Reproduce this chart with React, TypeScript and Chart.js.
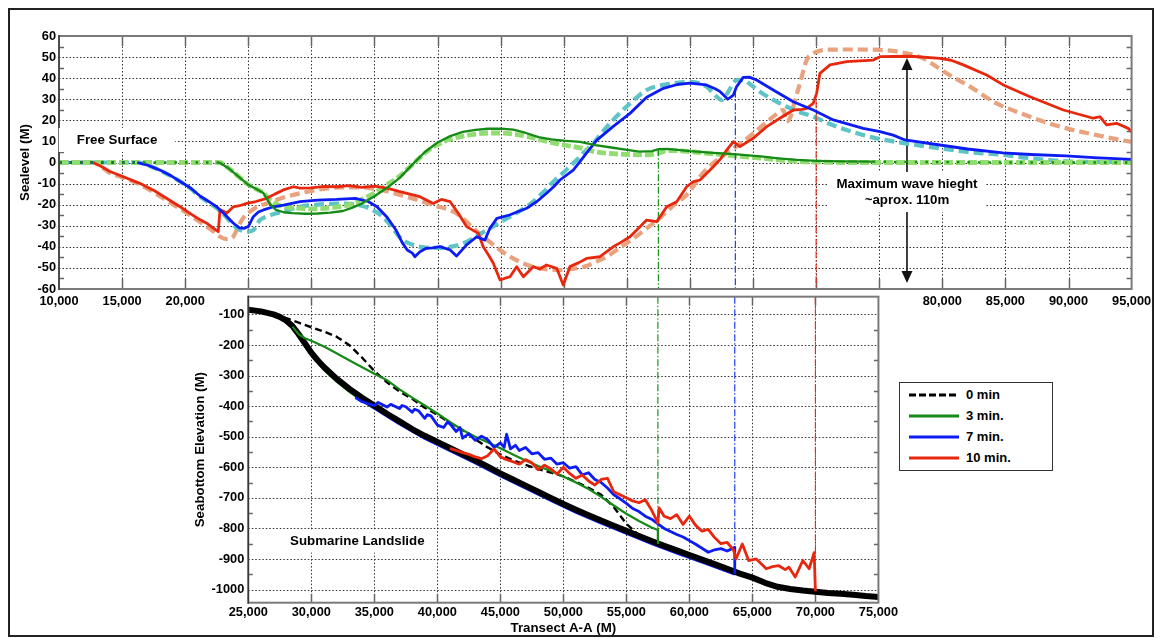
import { useEffect, useRef } from 'react';
import { Chart, registerables } from 'chart.js';

Chart.register(...registerables);

const FONT = '"Liberation Sans", Arial, Helvetica, sans-serif';

type P = [number, number];

// ---------- axes ----------
const topXTicks = [10000, 15000, 20000, 25000, 30000, 35000, 40000, 45000, 50000, 55000, 60000, 65000, 70000, 75000, 80000, 85000, 90000, 95000];
const topXLabelled = [10000, 15000, 20000, 80000, 85000, 90000, 95000];
const topYTicks = [-60, -50, -40, -30, -20, -10, 0, 10, 20, 30, 40, 50, 60];
const topYMinor = [-55, -45, -35, -25, -15, -5, 5, 15, 25, 35, 45, 55];

const botXTicks = [25000, 30000, 35000, 40000, 45000, 50000, 55000, 60000, 65000, 70000, 75000];
const botYTicks = [-100, -200, -300, -400, -500, -600, -700, -800, -900, -1000];
const botYMinor = [-150, -250, -350, -450, -550, -650, -750, -850, -950];

// ---------- free surface (sealevel) ----------
const sea3min: P[] = [[10000,0],[22700,0],[23500,-3],[24300,-7],[25000,-10.6],[25600,-12.5],[26200,-14.5],[26700,-19.5],[27200,-22.5],[27800,-23.6],[28500,-24],[29500,-24.3],[30500,-24.2],[31500,-23.8],[32500,-23],[33200,-21.5],[34000,-19.5],[35000,-16],[36000,-12],[37000,-7.3],[38000,-1],[39000,5],[40000,9.5],[41000,12.5],[42000,14.5],[43000,15.5],[44000,16],[45000,16.1],[46000,15.6],[47000,14],[48000,12],[49000,11],[50000,10.4],[51300,9.8],[52500,8.2],[53900,7],[55000,6],[56000,5.2],[57000,5.4],[57500,6.3],[58200,6.5],[59000,6],[60000,5.4],[61800,4.6],[63500,4],[65800,2.8],[67000,2],[68500,1.2],[70000,0.8],[72000,0.5],[74500,0.4],[77000,0.3],[80000,0.2],[85000,0],[95000,0]];
const sea3minRef: P[] = [[10000,0],[22700,0],[23500,-3],[24300,-7],[25000,-10.5],[25600,-12.5],[26200,-14.5],[26800,-18],[27500,-20.5],[28500,-21.5],[30000,-22],[31500,-21.5],[33000,-20],[34000,-17.5],[35000,-14.5],[36000,-10.5],[37000,-6.5],[38000,-1],[39000,4.5],[40000,8.5],[41000,11],[42000,12.5],[43000,13.5],[44000,14],[45000,14],[46000,13.5],[47000,12.5],[48000,11],[49000,9.5],[50000,8.3],[51300,6.9],[52500,5],[53900,4.2],[55000,3.8],[56500,3.6],[57500,4.4],[58200,5.6],[59000,5.6],[60000,5.2],[61800,4.1],[63500,3.2],[65800,2],[67000,1.2],[68500,0.5],[70000,0.2],[72000,0],[95000,0]];
const sea7min: P[] = [[10000,0],[16200,0],[17000,-1.2],[18000,-3.6],[18800,-6],[19600,-9],[20400,-12],[21200,-16],[22000,-19],[22500,-21],[23200,-25],[23800,-28.7],[24300,-31],[24700,-31.2],[25000,-30.4],[25400,-25.7],[25800,-23.5],[26200,-22.5],[27000,-21],[27800,-20.2],[29100,-18.6],[30500,-17.8],[32000,-17.5],[33500,-17],[34500,-18.5],[35200,-21],[36000,-26],[36700,-32],[37200,-38],[37600,-41.5],[38000,-43],[38200,-44.7],[38600,-42.3],[39100,-40.7],[39600,-40.5],[40200,-39.9],[41000,-41.5],[41500,-44.4],[42300,-39.1],[43100,-35.2],[43750,-36.8],[44150,-31.2],[44700,-26.5],[45700,-24.9],[46300,-23.5],[47060,-21.7],[47850,-18.6],[48640,-14.6],[49200,-11.5],[49700,-8.3],[50750,-3.6],[51300,0.5],[51800,4.4],[52600,10.5],[53900,17],[55250,23.3],[56570,31],[57900,35.2],[59000,37],[60000,37.6],[61300,36.8],[62000,35],[62400,33.6],[63000,30],[63440,32],[63700,36],[64220,40.4],[64700,40.5],[65280,39.1],[66600,34.4],[68190,28.8],[69770,24.9],[71360,20.2],[73730,16.2],[75060,14.6],[76100,13],[77040,10.7],[79800,8.3],[82000,6.4],[84800,4.6],[87000,3.8],[89800,3.1],[92000,2.3],[95000,1.5]];
const sea7minRef: P[] = [[10000,0],[16200,0],[17000,-1.2],[18000,-3.8],[18800,-6.2],[19600,-9],[20400,-12.3],[21200,-16.3],[22000,-19.5],[22500,-21.7],[23200,-25.5],[23800,-29.6],[24300,-31.8],[24870,-32.8],[25400,-32],[25930,-27.3],[26500,-25.5],[27250,-24.1],[28200,-22.5],[29100,-21],[30500,-20],[32000,-19.5],[33500,-20],[34500,-21.5],[35500,-25],[36300,-30],[37000,-35.5],[37800,-38.5],[38600,-40],[40000,-40.5],[41000,-40],[41800,-38.8],[42570,-36.8],[43900,-32],[44800,-29],[45740,-25.7],[46700,-22.3],[47580,-18.6],[48400,-14],[49170,-9.1],[50100,-4],[51020,1.2],[51700,5.5],[52340,9.1],[53000,14],[53920,20.2],[55250,28],[56570,34.4],[57880,36.8],[59000,37.8],[60000,38.3],[61320,36],[61800,33],[62110,31.2],[62510,29.6],[63040,33.6],[63700,39.1],[64220,39.1],[64800,37],[65540,33.6],[67130,28],[68500,24.3],[69770,21.7],[71000,18.5],[72420,15.4],[74530,11.8],[77040,9.1],[79800,6.7],[82000,5],[84800,3.6],[87000,2],[89800,0.6],[92000,0.3],[95000,0.3]];
const sea10min: P[] = [[10000,0],[12700,0],[13400,-2],[14040,-4.3],[15000,-6.5],[16400,-9.9],[17600,-13.5],[18800,-18],[19600,-21],[20380,-24.1],[21000,-26.5],[21700,-28.8],[22200,-31],[22620,-32.8],[22760,-22.5],[23000,-23],[23290,-24.1],[23810,-21],[24300,-20.5],[24870,-19.4],[25600,-18.5],[26460,-17],[27100,-15],[27780,-13],[28570,-11.5],[29100,-12.2],[30000,-12],[31000,-11.3],[32000,-11.5],[33000,-11],[34000,-11.8],[35000,-11.2],[36000,-12.2],[37020,-13.8],[37800,-15],[38600,-16.2],[39660,-19.4],[40300,-17.5],[41000,-18.6],[41640,-24.1],[42300,-30.4],[43230,-33.6],[43620,-40],[44000,-43.5],[44420,-47.8],[44950,-55.7],[45300,-55],[45740,-54.2],[46270,-49.4],[46800,-54.2],[47580,-49.4],[48100,-50.5],[48640,-48.6],[49440,-50.2],[49960,-58.1],[50490,-49.4],[51200,-47.5],[51810,-45.5],[52870,-44.7],[53920,-40],[54500,-38],[55250,-35.2],[56570,-27.3],[57360,-28.1],[58160,-21],[58950,-18.6],[59740,-11.5],[60270,-9.1],[60800,-8.3],[61850,-2],[62400,1.5],[62910,5.9],[63440,9.9],[63960,7.5],[65020,11.5],[66080,17],[67130,21],[68190,24.9],[68900,25.2],[69250,25.7],[69770,28],[70040,32.8],[70300,42.3],[71100,46.3],[72420,47.8],[74530,48.6],[75060,50.2],[77500,50.4],[79800,49.4],[80700,48.5],[81660,46.3],[83510,41.5],[84830,36.8],[86950,31.2],[89590,24.9],[91960,21],[92490,21.7],[93020,17.8],[93810,18.6],[94730,16.2],[95000,14.6]];
const sea10minRef: P[] = [[10000,0],[12700,0],[13400,-2.3],[14040,-5],[15000,-7],[16400,-10.5],[17600,-14.5],[18800,-19],[19600,-22],[20380,-25],[21000,-27.5],[21700,-30.4],[22300,-33],[22760,-35.2],[23290,-36.3],[23810,-35.2],[24000,-33],[24340,-28.8],[24700,-25.5],[25130,-23.3],[25700,-21],[26460,-19.4],[27200,-17.8],[28040,-16.2],[29100,-14.6],[30000,-13.5],[31000,-12.5],[32500,-11.8],[34000,-11.8],[35500,-13],[37020,-15.4],[38300,-17.5],[39660,-20.2],[41250,-23.3],[42000,-26.5],[42830,-31.2],[43900,-36.5],[44950,-41.5],[45700,-44.5],[46530,-47.1],[47300,-49],[48120,-50.2],[49700,-51],[50700,-50.5],[51810,-49.1],[52600,-47],[53400,-44.7],[54200,-41.5],[54980,-38.3],[55800,-34.8],[56570,-31.2],[57400,-27.5],[58160,-23.3],[58950,-19],[59740,-15.4],[60300,-11],[60800,-6.7],[61800,-0.5],[62910,4.4],[64000,9],[65020,13.8],[65800,17.8],[66600,21.7],[67400,24.9],[67660,19.4],[68000,22],[68190,26.5],[68720,37.6],[69250,48.6],[69700,51.5],[70300,53],[71000,53.5],[73000,53.6],[75060,53.4],[77170,51.8],[78490,49.4],[79400,46],[80340,42.3],[82190,36],[84300,28],[85700,24.5],[86950,21.7],[88500,18.5],[89850,16.2],[92230,13],[94870,9.9],[95000,9.8]];

// wave fronts (dash-dot verticals), top part and bottom part
const front3Top: P[] = [[57500, 6.3], [57500, -60]];
const front7Top: P[] = [[63600, 34], [63600, -60]];
const front10Top: P[] = [[70000, 29], [70000, -60]];
const front3Bot: P[] = [[57500, -42], [57500, -805]];
const front7Bot: P[] = [[63600, -42], [63600, -862]];
const front10Bot: P[] = [[70000, -42], [70000, -880]];

// ---------- seabottom ----------
const seabed: P[] = [[25000,-85],[26000,-90],[27000,-100],[27500,-108],[28000,-120],[28500,-138],[29000,-165],[29500,-195],[30000,-225],[30500,-250],[31000,-272],[32000,-310],[33000,-343],[34000,-372],[35000,-398],[36000,-425],[37000,-450],[38000,-475],[39000,-497],[40000,-517],[41000,-537],[42000,-557],[43000,-577],[44000,-598],[45000,-620],[46000,-640],[47000,-660],[48000,-680],[49000,-700],[50000,-720],[51000,-739],[52000,-757],[53000,-774],[54000,-791],[55000,-808],[56000,-825],[57000,-841],[58000,-857],[59000,-872],[60000,-887],[61000,-902],[62000,-917],[63000,-932],[64000,-948],[65000,-961],[66000,-978],[67000,-991],[68000,-998],[69000,-1003],[70000,-1007],[71000,-1011],[72000,-1014],[73000,-1017],[74000,-1021],[75000,-1024]];
const slide0min: P[] = [[27000,-100],[28000,-112],[29000,-127],[30000,-142],[31000,-156],[32000,-173],[33000,-200],[34000,-240],[35000,-285],[36000,-322],[37000,-352],[38000,-376],[39000,-405],[40000,-428],[41000,-455],[42000,-478],[43000,-508],[44000,-535],[45000,-558],[46000,-577],[47000,-592],[48000,-606],[49000,-617],[50000,-630],[51000,-648],[52000,-667],[53000,-690],[54000,-730],[55000,-785],[55800,-815],[56200,-828]];
const slide3min: P[] = [[28500,-140],[29000,-165],[29500,-178],[30000,-186],[31000,-205],[32000,-227],[33000,-250],[34000,-272],[35000,-294],[36000,-315],[37000,-345],[38000,-372],[39000,-398],[40000,-424],[41000,-452],[42000,-478],[43000,-500],[44000,-518],[45000,-538],[46000,-558],[47000,-578],[48000,-596],[49000,-612],[50000,-630],[51000,-650],[52000,-671],[53000,-697],[54000,-725],[55000,-752],[56000,-776],[57000,-797],[57500,-805],[57500,-848]];
const slide3minBase: P[] = [[28500,-148],[29000,-175],[29500,-205],[30000,-235],[31000,-282],[32000,-320],[33000,-353],[34000,-382],[35000,-408]];
const slide7min: P[] = [[33500,-372],[34000,-385],[34500,-392],[35000,-398],[35300,-388],[35500,-392],[36000,-403],[36300,-394],[36500,-398],[37000,-408],[37200,-398],[37500,-402],[38000,-420],[38200,-410],[38500,-415],[39000,-440],[39200,-428],[39500,-432],[40000,-462],[40500,-470],[40800,-452],[41000,-458],[41500,-483],[41800,-470],[42000,-505],[42500,-490],[43000,-512],[43500,-498],[44000,-510],[44500,-535],[45000,-520],[45300,-535],[45500,-492],[45800,-540],[46200,-528],[46500,-545],[47000,-535],[47500,-556],[48000,-552],[48500,-574],[49000,-570],[49500,-590],[50000,-585],[50500,-603],[51000,-598],[51500,-625],[52000,-618],[52500,-640],[53000,-650],[53500,-668],[54000,-690],[54500,-703],[55000,-718],[55500,-735],[56000,-745],[56500,-760],[57000,-770],[57500,-785],[58000,-800],[58500,-810],[59000,-820],[59500,-828],[60000,-840],[60500,-852],[61000,-865],[61500,-878],[62000,-870],[62500,-866],[63000,-874],[63600,-862],[63600,-945]];
const slide7minBase: P[] = [[33500,-368],[35000,-408],[37000,-460],[39000,-507],[41000,-547],[43000,-587],[45000,-630],[47000,-670],[49000,-710],[51000,-749],[53000,-784],[55000,-818],[57000,-851],[59000,-882],[61000,-912],[63000,-942],[63600,-951]];
const slide10min: P[] = [[41000,-538],[41500,-545],[42000,-552],[42500,-558],[43000,-566],[43500,-572],[44000,-562],[44500,-540],[45000,-566],[45500,-575],[46000,-582],[46500,-590],[47000,-575],[47500,-585],[48000,-608],[48500,-593],[49000,-605],[49500,-622],[50000,-600],[50500,-620],[51000,-636],[51500,-625],[52000,-645],[52500,-658],[53000,-640],[53500,-636],[54000,-680],[54500,-690],[55000,-700],[55500,-710],[56000,-716],[56500,-706],[57000,-740],[57500,-782],[57600,-733],[58000,-760],[58500,-768],[59000,-755],[59500,-787],[60000,-760],[60500,-790],[61000,-809],[61500,-803],[62000,-830],[62500,-850],[63000,-846],[63500,-870],[63700,-900],[64200,-851],[64700,-905],[65300,-900],[65800,-920],[66100,-932],[66600,-925],[67100,-922],[67600,-935],[67900,-927],[68400,-959],[69000,-905],[69500,-932],[69900,-879],[70000,-1005]];

// ---------- annotations ----------
const freeSurfaceLabel = { x: 14600, y: 10.7, text: 'Free Surface' };
const waveLabel = { x: 77200, y: -14, lines: ['Maximum wave hieght', '~aprox. 110m'] };
const waveArrow = { x: 77200, top: 49.6, bottom: -57.2 };
const landslideLabel = { x: 33650, y: -843, text: 'Submarine Landslide' };

const legendItems = [
  { label: '0 min', color: '#000000', dash: '7 3' },
  { label: '3 min.', color: '#168a16', dash: '' },
  { label: '7 min.', color: '#0c1cf2', dash: '' },
  { label: '10 min.', color: '#e8280e', dash: '' },
];

const C = {
  green: '#168a16', lightGreen: '#92dd72', blue: '#0c1cf2', cyan: '#5ec4c6',
  red: '#e8280e', salmon: '#e9a27e', black: '#000000',
  vGreen: '#1a961a', vBlue: '#1f3df0', vRed: '#f02a1a',
};

const ds = (data: P[], color: string, width: number, extra: any = {}) => ({
  data: data.map(([x, y]) => ({ x, y })),
  borderColor: color,
  backgroundColor: color,
  borderWidth: width,
  pointRadius: 0,
  pointHoverRadius: 0,
  fill: false,
  tension: 0,
  borderCapStyle: 'butt',
  borderJoinStyle: 'round',
  ...extra,
});

const zeroDotted = {
  borderDash: (c: any) =>
    Math.abs(c.p0.parsed.y) < 0.45 && Math.abs(c.p1.parsed.y) < 0.45 ? [2.5, 8] : undefined,
};

function withOrder(list: any[]) {
  return list.map((d, i) => ({ ...d, order: list.length - i }));
}

function gridPlugin(g: { xTicks: number[]; yTicks: number[]; yMinor: number[]; xTickLen: number; yMinorLen: number }) {
  return {
    id: 'sciGrid',
    beforeDatasetsDraw(chart: any) {
      const { ctx, chartArea: a, scales } = chart;
      const xs = scales.x, ys = scales.y;
      ctx.save();
      ctx.fillStyle = '#ffffff';
      ctx.fillRect(a.left, a.top, a.right - a.left, a.bottom - a.top);
      ctx.lineWidth = 1;
      ctx.strokeStyle = '#333333';
      ctx.setLineDash([1.5, 2]);
      ctx.beginPath();
      g.xTicks.forEach((v) => {
        if (v > xs.min && v < xs.max) {
          const p = Math.round(xs.getPixelForValue(v)) + 0.5;
          ctx.moveTo(p, a.top); ctx.lineTo(p, a.bottom);
        }
      });
      g.yTicks.forEach((v) => {
        if (v > ys.min && v < ys.max) {
          const p = Math.round(ys.getPixelForValue(v)) + 0.5;
          ctx.moveTo(a.left, p); ctx.lineTo(a.right, p);
        }
      });
      ctx.stroke();
      ctx.setLineDash([]);
      ctx.strokeStyle = '#666666';
      ctx.lineWidth = 1.5;
      ctx.beginPath();
      g.xTicks.forEach((v) => {
        if (v > xs.min && v < xs.max) {
          const p = Math.round(xs.getPixelForValue(v)) + 0.5;
          ctx.moveTo(p, a.bottom); ctx.lineTo(p, a.bottom - g.xTickLen);
          ctx.moveTo(p, a.top); ctx.lineTo(p, a.top + g.xTickLen);
        }
      });
      g.yMinor.forEach((v) => {
        const p = Math.round(ys.getPixelForValue(v)) + 0.5;
        ctx.moveTo(a.left, p); ctx.lineTo(a.left + g.yMinorLen, p);
        ctx.moveTo(a.right, p); ctx.lineTo(a.right - g.yMinorLen, p);
      });
      ctx.stroke();
      ctx.restore();
    },
    afterDatasetsDraw(chart: any) {
      const { ctx, chartArea: a } = chart;
      ctx.save();
      ctx.strokeStyle = '#7a7a7a';
      ctx.lineWidth = 2;
      ctx.strokeRect(a.left, a.top, a.right - a.left, a.bottom - a.top);
      ctx.strokeStyle = '#333333';
      ctx.lineWidth = 1.3;
      ctx.beginPath();
      ctx.moveTo(a.left, a.top - 1); ctx.lineTo(a.left, a.bottom + 1);
      ctx.stroke();
      ctx.restore();
    },
  };
}

function textBox(ctx: CanvasRenderingContext2D, cx: number, cy: number, lines: string[], lineH: number, padX: number, boxH: number) {
  ctx.font = `bold 13.3px ${FONT}`;
  const w = Math.max(...lines.map((l) => ctx.measureText(l).width));
  ctx.fillStyle = '#ffffff';
  ctx.fillRect(cx - w / 2 - padX, cy - boxH / 2, w + 2 * padX, boxH);
  ctx.fillStyle = '#000000';
  ctx.textAlign = 'center';
  ctx.textBaseline = 'middle';
  lines.forEach((l, i) => {
    ctx.fillText(l, cx, cy + (i - (lines.length - 1) / 2) * lineH);
  });
}

const topAnnotations = {
  id: 'topAnnotations',
  beforeDatasetsDraw(chart: any) {
    const { ctx, scales } = chart;
    const x = scales.x.getPixelForValue(waveArrow.x);
    const yT = scales.y.getPixelForValue(waveArrow.top);
    const yB = scales.y.getPixelForValue(waveArrow.bottom);
    ctx.save();
    ctx.strokeStyle = '#111111';
    ctx.fillStyle = '#111111';
    ctx.lineWidth = 1.6;
    ctx.beginPath();
    ctx.moveTo(x, yT + 10); ctx.lineTo(x, yB - 10);
    ctx.stroke();
    ctx.beginPath();
    ctx.moveTo(x, yT); ctx.lineTo(x - 5.5, yT + 12); ctx.lineTo(x + 5.5, yT + 12); ctx.closePath();
    ctx.fill();
    ctx.beginPath();
    ctx.moveTo(x, yB); ctx.lineTo(x - 5.5, yB - 12); ctx.lineTo(x + 5.5, yB - 12); ctx.closePath();
    ctx.fill();
    ctx.restore();
  },
  afterDatasetsDraw(chart: any) {
    const { ctx, scales } = chart;
    ctx.save();
    textBox(ctx, scales.x.getPixelForValue(freeSurfaceLabel.x), scales.y.getPixelForValue(freeSurfaceLabel.y), [freeSurfaceLabel.text], 16, 18, 24);
    textBox(ctx, scales.x.getPixelForValue(waveLabel.x), scales.y.getPixelForValue(waveLabel.y), waveLabel.lines, 16, 8, 40);
    ctx.restore();
  },
};

const botAnnotations = {
  id: 'botAnnotations',
  afterDatasetsDraw(chart: any) {
    const { ctx, scales } = chart;
    ctx.save();
    textBox(ctx, scales.x.getPixelForValue(landslideLabel.x), scales.y.getPixelForValue(landslideLabel.y), [landslideLabel.text], 16, 6, 22);
    ctx.restore();
  },
};

const tickFont = { family: FONT, size: 12.8, weight: 'bold' as const };
const titleFont = { family: FONT, size: 13.3, weight: 'bold' as const };
const fmt = (v: number) => v.toLocaleString('en-US');

export default function App() {
  const topRef = useRef<HTMLCanvasElement>(null);
  const botRef = useRef<HTMLCanvasElement>(null);

  useEffect(() => {
    const topChart = new Chart(topRef.current!, {
      type: 'line',
      data: {
        datasets: withOrder([
          ds(sea10minRef, C.salmon, 4.2, { borderDash: [10, 5], cubicInterpolationMode: 'monotone' }),
          ds(sea7minRef, C.cyan, 4.2, { borderDash: [10, 5], cubicInterpolationMode: 'monotone' }),
          ds(sea3minRef, C.lightGreen, 4.8, { borderDash: [9, 3], cubicInterpolationMode: 'monotone' }),
          ds(front10Top, C.vRed, 1.2, { borderDash: [7, 2, 1.5, 2] }),
          ds(front7Top, C.vBlue, 1.2, { borderDash: [7, 2, 1.5, 2] }),
          ds(front3Top, C.vGreen, 1.2, { borderDash: [7, 2, 1.5, 2] }),
          ds(sea10min, C.red, 2.8, { segment: zeroDotted }),
          ds(sea7min, C.blue, 2.8, { segment: zeroDotted }),
          ds(sea3min, C.green, 2.3, { segment: zeroDotted }),
        ]) as any,
      },
      options: {
        responsive: false,
        animation: false,
        events: [],
        layout: { padding: { left: 0, top: 36, right: 28.4, bottom: 320 } },
        plugins: { legend: { display: false }, tooltip: { enabled: false } },
        scales: {
          x: {
            type: 'linear',
            min: 10000,
            max: 95000,
            grid: { display: false, drawTicks: false },
            border: { display: false },
            afterBuildTicks: (s: any) => { s.ticks = topXTicks.map((value) => ({ value })); },
            afterFit: (s: any) => { s.height = 30; },
            ticks: {
              autoSkip: false, maxRotation: 0, padding: 4.5, color: '#000', font: tickFont,
              callback: (v: any) => (topXLabelled.includes(Number(v)) ? fmt(Number(v)) : ''),
            },
          },
          y: {
            type: 'linear',
            min: -60,
            max: 60,
            grid: { display: false, drawTicks: false },
            border: { display: false },
            afterBuildTicks: (s: any) => { s.ticks = topYTicks.map((value) => ({ value })); },
            afterFit: (s: any) => { s.width = 59; },
            ticks: { padding: 3, color: '#000', font: tickFont, callback: (v: any) => String(v) },
            title: { display: true, text: 'Sealevel (M)', color: '#000', font: titleFont, padding: { top: 17.5, bottom: 0 } },
          },
        },
      },
      plugins: [gridPlugin({ xTicks: topXTicks, yTicks: topYTicks, yMinor: topYMinor, xTickLen: 10, yMinorLen: 5 }), topAnnotations],
    });

    const botChart = new Chart(botRef.current!, {
      type: 'line',
      data: {
        datasets: withOrder([
          ds(slide3minBase, C.green, 2),
          ds(slide7minBase, C.blue, 2),
          ds(seabed, C.black, 6),
          ds(slide0min, C.black, 2.4, { borderDash: [7, 4] }),
          ds(front10Bot, C.vRed, 1.2, { borderDash: [7, 2, 1.5, 2] }),
          ds(front7Bot, C.vBlue, 1.2, { borderDash: [7, 2, 1.5, 2] }),
          ds(front3Bot, C.vGreen, 1.2, { borderDash: [7, 2, 1.5, 2] }),
          ds(slide3min, C.green, 2.2),
          ds(slide7min, C.blue, 2.8),
          ds(slide10min, C.red, 2.8),
        ]) as any,
      },
      options: {
        responsive: false,
        animation: false,
        events: [],
        layout: { padding: { left: 0, top: 7.7, right: 20.5, bottom: 0 } },
        plugins: { legend: { display: false }, tooltip: { enabled: false } },
        scales: {
          x: {
            type: 'linear',
            min: 25000,
            max: 75000,
            grid: { display: false, drawTicks: false },
            border: { display: false },
            afterBuildTicks: (s: any) => { s.ticks = botXTicks.map((value) => ({ value })); },
            afterFit: (s: any) => { s.height = 36.3; },
            ticks: { autoSkip: false, maxRotation: 0, padding: 2, color: '#000', font: tickFont, callback: (v: any) => fmt(Number(v)) },
            title: { display: true, text: 'Transect A-A (M)', color: '#000', font: titleFont, padding: { top: 0, bottom: 3 } },
          },
          y: {
            type: 'linear',
            min: -1043,
            max: -42,
            grid: { display: false, drawTicks: false },
            border: { display: false },
            afterBuildTicks: (s: any) => { s.ticks = botYTicks.map((value) => ({ value })); },
            afterFit: (s: any) => { s.width = 68.3; },
            ticks: { padding: 4, color: '#000', font: tickFont, callback: (v: any) => String(v) },
            title: { display: true, text: 'Seabottom Elevation (M)', color: '#000', font: titleFont, padding: { top: 12.2, bottom: 0 } },
          },
        },
      },
      plugins: [gridPlugin({ xTicks: botXTicks, yTicks: botYTicks, yMinor: botYMinor, xTickLen: 9, yMinorLen: 4.5 }), botAnnotations],
    });

    return () => {
      topChart.destroy();
      botChart.destroy();
    };
  }, []);

  return (
    <div style={{ position: 'absolute', left: 0, top: 0, width: 1160, height: 639, background: '#fff', fontFamily: FONT }}>
      <div style={{ position: 'absolute', left: 8, top: 8, width: 1142, height: 625, border: '2px solid #222' }} />
      <canvas ref={topRef} width={1160} height={639} style={{ position: 'absolute', left: 0, top: 0 }} />
      <canvas ref={botRef} width={720} height={354} style={{ position: 'absolute', left: 180, top: 285 }} />
      <div style={{ position: 'absolute', left: 899, top: 382, width: 152, height: 87, border: '1px solid #333', background: '#fff' }}>
        {legendItems.map((it, i) => (
          <div key={it.label} style={{ position: 'absolute', left: 0, top: 12 + i * 21 - 8, height: 16, width: 150 }}>
            <svg width={60} height={16} style={{ position: 'absolute', left: 0, top: 0 }}>
              <line x1={9} y1={8} x2={59} y2={8} stroke={it.color} strokeWidth={3} strokeDasharray={it.dash || undefined} />
            </svg>
            <span style={{ position: 'absolute', left: 66, top: 0, lineHeight: '16px', fontSize: 13, fontWeight: 'bold', color: '#000', whiteSpace: 'nowrap' }}>{it.label}</span>
          </div>
        ))}
      </div>
    </div>
  );
}
